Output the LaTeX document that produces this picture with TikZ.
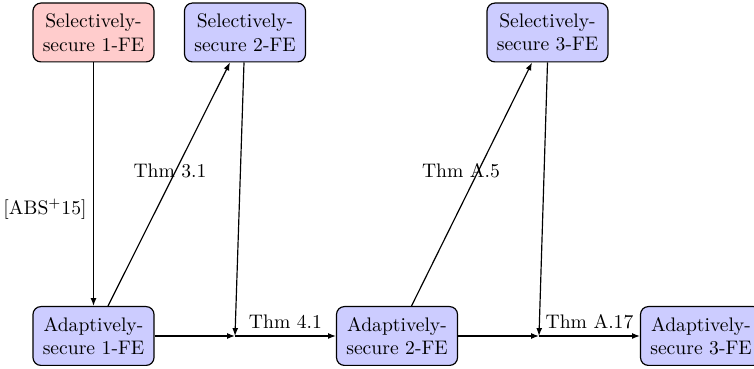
\documentclass[tikz,border=0pt]{standalone}
\usetikzlibrary{calc,arrows.meta}
\begin{document}
\begin{tikzpicture}[x=0.51pt,y=-0.51pt,
  fe/.style={draw,rounded corners=4pt,align=center,minimum width=61.7pt,minimum height=30pt,inner sep=0pt,semithick},
  sel/.style={fe,fill=red!20},
  blu/.style={fe,fill=blue!20},
  arr/.style={-{Latex[length=4pt,width=3pt]},semithick},
  ln/.style={semithick}]
\useasboundingbox (0,0) rectangle (754,369);
\node[sel] (S1) at (93.5,32.5) {Selectively-\\secure 1-FE};
\node[blu] (S2) at (245,32.5) {Selectively-\\secure 2-FE};
\node[blu] (S3) at (547.5,32.5) {Selectively-\\secure 3-FE};
\node[blu] (A1) at (93.5,336) {Adaptively-\\secure 1-FE};
\node[blu] (A2) at (397,336) {Adaptively-\\secure 2-FE};
\node[blu] (A3) at (701,336) {Adaptively-\\secure 3-FE};
\coordinate (J1) at (235,336);
\coordinate (J2) at (539,336);
\draw[arr] (S1.south) -- (A1.north);
\node (L0) at (45,209) {[ABS$^+$15]};
\draw[arr] ($(A1.north)+(14.5,0)$) -- ($(S2.south)+(-15,0)$);
\node (L1) at (170,171) {Thm 3.1};
\draw[arr] ($(S2.south)+(-1,0)$) -- (J1);
\draw[arr] (A1.east) -- (J1);
\draw[arr] (J1) -- node[above] (L2) {Thm 4.1} (A2.west);
\draw[arr] ($(A2.north)+(14.5,0)$) -- ($(S3.south)+(-15.5,0)$);
\node (L3) at (461,171) {Thm A.5};
\draw[arr] (S3.south) -- (J2);
\draw[arr] (A2.east) -- (J2);
\draw[arr] (J2) -- node[above] (L4) {Thm A.17} (A3.west);
\end{tikzpicture}
\end{document}
